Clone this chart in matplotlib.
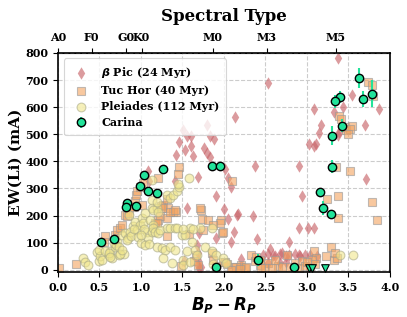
import numpy as np
import matplotlib
matplotlib.use('Agg')
from matplotlib import pyplot as plt

plt.rcParams['font.family'] = 'DejaVu Serif'
plt.rcParams['font.weight'] = 'bold'
plt.rcParams['axes.labelweight'] = 'bold'
plt.rcParams['axes.titleweight'] = 'bold'
plt.rcParams['mathtext.fontset'] = 'custom'
plt.rcParams['mathtext.it'] = 'DejaVu Sans:italic:bold'
plt.rcParams['mathtext.rm'] = 'DejaVu Sans:bold'
plt.rcParams['mathtext.bf'] = 'DejaVu Sans:italic:bold'

# beta Pic (24 Myr)
bp_x = [2.13, 1.80, 1.51, 1.46, 1.56, 1.60, 1.83, 1.88, 1.53, 1.60, 1.76, 1.79, 1.42, 1.63,
        1.83, 2.37, 1.41, 1.69, 2.01, 2.05, 2.09, 1.91, 1.56, 2.00, 2.16, 2.35, 1.70, 1.90,
        2.12, 2.08, 1.68, 1.69, 1.69, 1.69, 1.52, 1.08, 1.10, 2.05, 2.17, 1.70, 1.72, 2.20,
        3.38, 2.53, 3.54, 3.08, 3.87, 3.43, 3.33, 3.17, 3.15, 3.70, 3.03, 3.08, 3.11, 3.39,
        3.37, 2.90, 2.94, 3.71, 2.40, 2.90, 3.01, 3.09, 2.78, 2.55, 2.59, 2.70, 2.78, 2.90,
        2.98, 3.04, 2.47, 2.53, 2.61, 2.67, 2.75, 2.86, 2.92, 3.12, 2.53, 2.67, 2.75]
bp_y = [563, 535, 516, 473, 492, 492, 492, 482, 442, 455, 449, 432, 424, 420,
        415, 383, 326, 344, 371, 338, 307, 273, 227, 224, 203, 199, 135, 117,
        140, 104, 92, 63, 37, 18, 31, 364, 326, 187, 205, 5, 10, 40,
        782, 688, 645, 592, 592, 602, 583, 535, 504, 535, 465, 455, 465, 510,
        498, 383, 273, 334, 113, 154, 154, 154, 104, 76, 55, 61, 55, 55,
        55, 55, 55, 60, 52, 58, 50, 58, 50, 52, 25, 25, 27]

# Tuc Hor (40 Myr)
th_x = [0.01, 0.22, 0.57, 0.56, 0.69, 0.71, 0.75, 0.77, 0.81, 0.83, 0.85, 0.91, 0.93, 0.94,
        0.95, 0.99, 1.01, 1.03, 1.17, 1.20, 1.24, 1.27, 1.21, 1.46, 1.45, 1.31, 1.32, 1.39,
        1.42, 1.25, 1.23, 1.31, 1.35, 1.41, 1.19, 1.31, 1.58, 1.72, 1.74, 1.71, 1.96, 1.95,
        1.98, 2.10, 1.48, 1.91, 1.99, 2.10, 2.19, 2.25, 1.81, 1.99, 1.75, 1.87, 1.66, 1.64,
        1.69, 1.85, 1.87, 2.01, 2.04, 2.33, 2.37, 2.43, 2.21, 2.15,
        3.74, 3.78, 3.80, 3.39, 3.41, 3.46, 3.47, 3.54, 3.52, 3.49, 3.35, 3.52, 3.24, 3.38,
        3.38, 3.79, 3.85, 3.29, 3.08, 3.11, 3.06, 3.04, 3.10, 3.23, 3.33, 3.36, 3.34, 2.43,
        2.27, 2.19, 2.53, 2.65, 2.76, 2.86, 2.94, 2.09, 2.39, 2.50, 2.58, 2.70, 2.80, 2.90,
        2.98, 3.00, 2.62, 2.45]
th_y = [6, 22, 123, 104, 129, 147, 156, 166, 203, 197, 209, 233, 254, 277,
        291, 307, 240, 320, 172, 184, 236, 240, 340, 379, 353, 261, 227, 215,
        215, 227, 197, 191, 215, 221, 172, 125, 133, 219, 187, 227, 184, 172,
        137, 329, 15, 15, 27, 10, 10, 6, 184, 141, 147, 166, 55, 31,
        18, 61, 37, 27, 21, 55, 31, 18, 18, 12,
        691, 682, 641, 568, 556, 528, 516, 531, 519, 500, 381, 365, 262, 272,
        191, 252, 182, 84, 71, 43, 37, 12, 22, 52, 37, 43, 61, 37,
        12, 3, 25, 15, 55, 25, 31, 0, 49, 8, 5, 10, 12, 8,
        15, 30, 35, 5]

# Pleiades (112 Myr)
pl_x = [0.30, 0.32, 0.36, 0.47, 0.49, 0.51, 0.53, 0.49, 0.61, 0.63, 0.65, 0.69, 0.71, 0.73,
        0.80, 0.77, 0.81, 0.84, 0.87, 0.90, 0.93, 0.95, 0.99, 1.01, 1.03, 1.05, 1.07, 1.09,
        1.11, 1.13, 1.15, 1.13, 0.85, 1.13, 1.13, 1.19, 1.15, 1.21, 1.31, 1.35, 1.39, 1.43,
        1.58, 1.46, 1.45, 1.15, 1.17, 1.21, 1.23, 1.31, 1.35, 1.41, 1.43, 1.49, 1.59, 1.71,
        1.85, 1.19, 1.25, 1.29, 1.35, 1.41, 1.55, 1.65, 1.77, 1.85, 1.91, 1.27, 1.37, 1.51,
        1.51, 1.59, 1.67, 1.87, 1.53, 1.61, 0.57, 0.61, 0.63, 0.67, 0.70, 0.74, 0.75, 0.77,
        0.83, 0.88, 0.92, 0.96, 1.00, 1.05, 1.10, 1.04, 1.00, 1.19, 1.51, 1.63, 1.99, 2.02,
        3.40, 3.55]
pl_y = [43, 28, 18, 65, 33, 52, 37, 74, 55, 68, 43, 86, 104, 55,
        58, 129, 135, 117, 141, 160, 178, 147, 166, 191, 172, 209, 141, 117,
        184, 227, 166, 141, 203, 258, 332, 227, 221, 215, 277, 264, 277, 289,
        338, 307, 316, 154, 141, 135, 147, 154, 156, 154, 156, 129, 154, 154,
        156, 86, 80, 74, 86, 74, 68, 74, 86, 70, 55, 43, 25, 37,
        18, 28, 55, 21, 129, 104, 71, 61, 47, 98, 92, 86, 59, 74,
        110, 125, 150, 120, 100, 90, 95, 150, 130, 252, 150, 150, 43, 25,
        55, 53]

# Carina
car_x = [0.52, 0.67, 0.83, 0.82, 0.94, 0.99, 1.04, 1.09, 1.19, 1.27, 1.86, 1.95, 1.91,
         2.41, 3.16, 3.19, 3.29, 2.85, 3.63, 3.40, 3.34, 3.68, 3.79, 3.42, 3.30, 3.30]
car_y = [103, 114, 246, 230, 236, 310, 349, 291, 284, 372, 383, 383, 12,
         37, 288, 229, 206, 12, 707, 637, 621, 630, 650, 532, 495, 381]
car_err = [8, 8, 10, 10, 10, 8, 8, 8, 8, 8, 10, 10, 10,
           23, 8, 25, 15, 8, 36, 21, 25, 28, 49, 25, 34, 25]
car_ul_x = [3.02, 3.06, 3.22]
car_ul_y = [6, 6, 6]

spt_pos = [0.0, 0.406, 0.815, 1.008, 1.864, 2.514, 3.349]
spt_lab = ['A0', 'F0', 'G0', 'K0', 'M0', 'M3', 'M5']

fig = plt.figure(figsize=(4.07, 3.17), dpi=100)
ax = fig.add_axes([0.1425, 0.142, 0.8155, 0.691])

ax.scatter(bp_x, bp_y, marker='d', s=40, color='#c9666b', alpha=0.65, linewidths=0,
           label=r'$\beta$ Pic (24 Myr)', zorder=2)
ax.scatter(th_x, th_y, marker='s', s=34, facecolor='#f4a460', edgecolor='#999999',
           alpha=0.6, linewidths=0.8, label='Tuc Hor (40 Myr)', zorder=2)
ax.scatter(pl_x, pl_y, marker='o', s=40, facecolor='#f0e68c', edgecolor='#aaaa88',
           alpha=0.6, linewidths=0.8, label='Pleiades (112 Myr)', zorder=2)
ax.errorbar(car_x, car_y, yerr=car_err, fmt='o', ms=6, mfc='#22e39a', mec='black',
            mew=1.0, ecolor='#22e39a', elinewidth=1.5, capsize=0, label='Carina', zorder=4)
ax.scatter(car_ul_x, car_ul_y, marker='v', s=30, facecolor='#22e39a', edgecolor='black',
           linewidths=0.8, zorder=4)

ax.set_xlim(0, 4)
ax.set_ylim(-8, 800)
ax.set_xticks(np.arange(0, 4.01, 0.5))
ax.set_yticks(np.arange(0, 801, 100))
ax.set_xticklabels([f'{v:.1f}' for v in np.arange(0, 4.01, 0.5)], fontweight='bold', fontsize=8)
ax.set_yticklabels([str(v) for v in range(0, 801, 100)], fontweight='bold', fontsize=8)
ax.grid(True, linestyle='--', color='#cccccc', linewidth=0.8)
ax.set_axisbelow(True)
for sp in ax.spines.values():
    sp.set_linewidth(1.2)

ax.set_xlabel(r'$B_P - R_P$', fontsize=12, labelpad=2)
ax.set_ylabel('EW(Li) (mA)', fontsize=11, fontweight='bold', labelpad=2)

top = ax.secondary_xaxis('top')
top.set_xticks(spt_pos)
top.set_xticklabels(spt_lab, fontweight='bold', fontsize=8)
top.set_xlabel('Spectral Type', fontsize=12, fontweight='bold', labelpad=8)

leg = ax.legend(loc='upper left', prop={'size': 8, 'weight': 'bold'}, frameon=True,
                borderpad=0.6, labelspacing=0.45, handletextpad=0.8, edgecolor='#cccccc')
leg.get_frame().set_linewidth(0.8)

fig.savefig('out.png', dpi=100)
